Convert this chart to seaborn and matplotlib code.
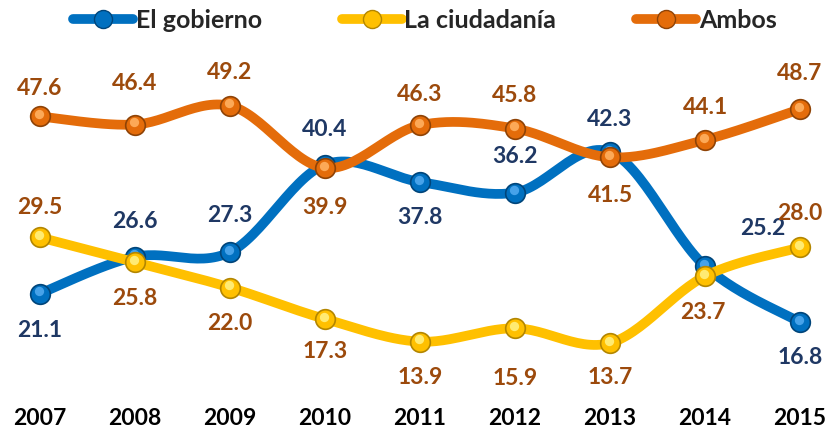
import numpy as np
import pandas as pd
import seaborn as sns
import matplotlib.pyplot as plt

years = [2007, 2008, 2009, 2010, 2011, 2012, 2013, 2014, 2015]
gobierno = [21.1, 26.6, 27.3, 40.4, 37.8, 36.2, 42.3, 25.2, 16.8]
ciudadania = [29.5, 25.8, 22.0, 17.3, 13.9, 15.9, 13.7, 23.7, 28.0]
ambos = [47.6, 46.4, 49.2, 39.9, 46.3, 45.8, 41.5, 44.1, 48.7]
series_names = ["El gobierno", "La ciudadanía", "Ambos"]

# label offsets in pixels (dx, dy), up is positive
off_gob = [(0, -37), (0, 35), (0, 37), (0, 35), (0, -36), (0, 36), (0, 32), (58, 38), (0, -35)]
off_ciu = [(0, 30), (0, -36), (0, -36), (0, -33), (0, -36), (0, -50), (0, -35), (-2, -36), (0, 34)]
off_amb = [(0, 28), (0, 41), (0, 33), (0, -40), (0, 31), (0, 33), (0, -38), (0, 32), (0, 36)]

line_colors = ["#0070C0", "#FFC000", "#E46C0A"]
edge_colors = ["#00457A", "#B38600", "#8F4306"]
hi_colors = ["#4FA8EE", "#FFF080", "#FFB060"]
label_colors = ["#1F3864", "#9C4A0C", "#9C4A0C"]


def smooth(x, y, n=30):
    # excel style smoothed line (catmull-rom bezier)
    x = np.asarray(x, float)
    y = np.asarray(y, float)
    px = np.concatenate([[x[0]], x, [x[-1]]])
    py = np.concatenate([[y[0]], y, [y[-1]]])
    t = np.linspace(0, 1, n)
    xs, ys = [], []
    for i in range(1, len(px) - 2):
        p0 = np.array([px[i], py[i]])
        p3 = np.array([px[i + 1], py[i + 1]])
        p1 = p0 + (p3 - np.array([px[i - 1], py[i - 1]])) / 6
        p2 = p3 - (np.array([px[i + 2], py[i + 2]]) - p0) / 6
        b = ((1 - t) ** 3)[:, None] * p0 + (3 * (1 - t) ** 2 * t)[:, None] * p1 \
            + (3 * (1 - t) * t ** 2)[:, None] * p2 + (t ** 3)[:, None] * p3
        xs.extend(b[:, 0])
        ys.extend(b[:, 1])
    return np.array(xs), np.array(ys)


sns.set_style("white")
plt.rcParams["font.family"] = ["Lato", "DejaVu Sans"]

fig = plt.figure(figsize=(8.28, 4.38), dpi=100)
ax = fig.add_axes([0, 33 / 438, 1, 360 / 438])

pt = 72 / 100
all_series = [gobierno, ciudadania, ambos]
all_offsets = [off_gob, off_ciu, off_amb]

for k, vals in enumerate(all_series):
    sx, sy = smooth(years, vals)
    curve = pd.DataFrame({"x": sx, "y": sy})
    sns.lineplot(data=curve, x="x", y="y", sort=False, ax=ax, color=line_colors[k],
                 linewidth=7, solid_capstyle="round", zorder=2 + k * 3)
    pts = pd.DataFrame({"year": years, "value": vals})
    sns.scatterplot(data=pts, x="year", y="value", ax=ax, s=200, color=line_colors[k],
                    edgecolor=edge_colors[k], linewidth=1.2, zorder=3 + k * 3)
    ax.scatter(np.array(years) - 0.012, np.array(vals) + 0.35, s=45, color=hi_colors[k],
               linewidths=0, alpha=0.9, zorder=4 + k * 3)
    for yr, v, (dx, dy) in zip(years, vals, all_offsets[k]):
        ax.annotate(f"{v:.1f}", (yr, v), xytext=(dx * pt, dy * pt), textcoords="offset points",
                    ha="center", va="center", fontsize=16.5, fontweight="bold",
                    color=label_colors[k], zorder=20)

ax.set_xlim(2007 - 40 / 95, 2015 + 28 / 95)
ax.set_ylim(4.42, 58.3)
ax.set_xticks(years)
ax.set_xticklabels([str(y) for y in years], fontsize=16.5, fontweight="bold", color="black")
ax.tick_params(axis="x", length=0, pad=2)
ax.set_yticks([])
ax.set_xlabel("")
ax.set_ylabel("")
for s in ax.spines.values():
    s.set_visible(False)

handles = []
for k in range(3):
    h, = ax.plot([], [], color=line_colors[k], linewidth=7, marker="o", markersize=13,
                 markerfacecolor=line_colors[k], markeredgecolor=edge_colors[k],
                 solid_capstyle="round")
    handles.append(h)
if ax.get_legend() is not None:
    ax.get_legend().remove()
fig.legend(handles, series_names, loc="center", bbox_to_anchor=(425 / 828, 1 - 20 / 438), ncol=3,
           frameon=False, handlelength=2.4, handletextpad=0.1, columnspacing=3.2,
           prop={"size": 18, "weight": "bold"})

fig.savefig("out.png", dpi=100)
